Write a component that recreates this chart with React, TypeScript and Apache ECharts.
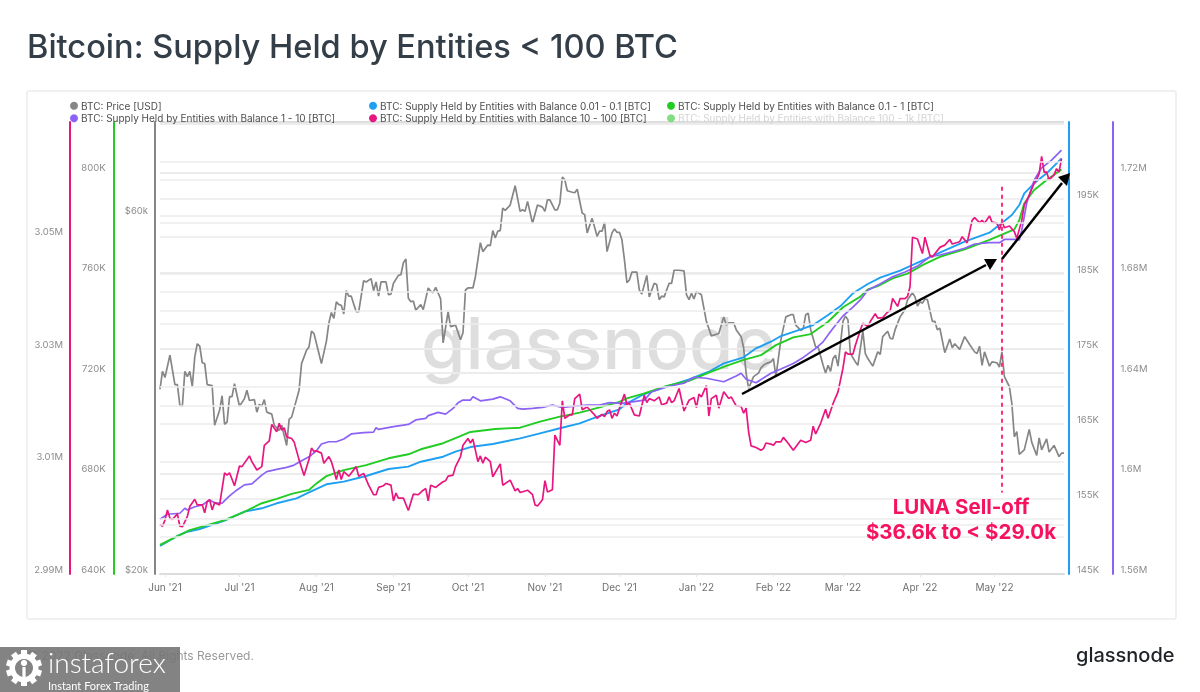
import React, { useEffect, useRef } from "react";
import * as echarts from "echarts";

const startDay = Date.UTC(2021, 4, 30);
const endDayOffset = 364;

const priceUsdK: [number, number][] = [
[0,35.3],[1,37.3],[2,36.6],[4,39.2],[6,35.8],[7,35.8],[8,33.6],[9,33.5],[10,37.3],[11,36.7],[12,37.3],[13,35.6],[14,39.0],[15,40.6],[16,40.3],[17,38.3],[18,38.2],[19,35.8],[21,35.7],[22,31.6],[24,33.1],[25,34.6],[26,31.7],[27,31.9],[28,34.5],[29,34.5],[30,35.9],[32,33.5],[34,34.3],[35,35.2],[36,34.1],[38,34.2],[39,32.9],[40,33.7],[41,33.5],[42,34.2],[43,32.9],[45,32.7],[46,31.6],[48,31.1],[49,31.6],[51,29.7],[52,32.2],[53,32.4],[56,35.2],[57,38.2],[59,39.8],[60,40.2],[61,42.2],[62,41.9],[64,39.4],[65,38.2],[67,40.9],[68,43.3],[69,44.7],[70,43.9],[71,46.2],[72,45.8],[73,45.7],[74,44.5],[75,47.8],[76,47.0],[77,47.0],[79,44.8],[80,44.8],[82,49.3],[83,49.1],[85,49.6],[86,47.8],[87,49.1],[88,47.0],[89,49.1],[91,49.1],[92,47.2],[93,47.3],[94,48.9],[96,50.1],[97,50.2],[98,52.1],[99,52.7],[100,46.7],[101,46.2],[102,46.3],[103,45.0],[105,45.8],[106,45.1],[108,48.2],[109,47.7],[110,47.5],[111,48.3],[113,46.6],[114,40.7],[116,44.8],[117,42.8],[119,43.0],[121,41.1],[122,42.0],[123,47.9],[124,48.2],[126,48.2],[127,49.9],[129,55.4],[130,53.9],[132,55.0],[133,54.9],[134,57.5],[135,56.2],[136,57.4],[137,57.5],[138,61.6],[139,61.2],[141,62.2],[143,66.0],[145,61.0],[146,61.3],[147,61.0],[148,62.9],[150,58.8],[152,62.2],[154,61.8],[155,61.0],[156,63.2],[157,63.2],[159,61.3],[160,61.3],[161,62.6],[162,67.8],[163,67.2],[164,65.0],[166,64.7],[167,64.6],[168,65.3],[170,60.7],[171,60.4],[172,57.1],[174,59.7],[176,56.5],[177,57.4],[178,57.4],[179,59.0],[180,53.9],[182,57.1],[183,57.8],[184,57.2],[185,57.2],[186,55.9],[187,52.6],[188,49.0],[189,49.4],[190,50.6],[192,50.6],[193,47.9],[194,47.3],[196,50.1],[197,46.9],[199,48.9],[200,48.7],[201,46.5],[202,47.0],[203,46.9],[205,48.9],[206,48.9],[207,50.9],[209,50.9],[211,50.8],[212,47.2],[213,46.5],[214,47.4],[215,46.6],[216,47.7],[218,47.2],[219,45.3],[220,43.5],[222,41.6],[223,41.7],[225,41.9],[227,44.1],[228,43.0],[229,43.3],[231,43.3],[232,42.4],[234,41.5],[235,40.1],[236,37.1],[237,35.4],[239,36.7],[241,37.1],[242,37.7],[243,38.0],[244,38.2],[246,38.4],[247,38.8],[248,36.7],[250,41.1],[251,42.6],[252,44.1],[254,44.4],[255,44.4],[256,43.0],[258,42.3],[259,42.5],[260,44.4],[261,44.6],[262,42.4],[264,40.2],[265,40.2],[267,38.0],[268,37.1],[269,38.0],[270,37.3],[271,38.8],[272,39.2],[273,37.9],[275,43.5],[276,44.2],[277,43.7],[278,39.4],[280,38.4],[281,38.0],[283,42.2],[284,39.4],[285,38.8],[287,37.9],[289,39.6],[290,39.3],[291,41.5],[293,42.2],[294,41.3],[295,41.2],[296,42.4],[298,44.1],[299,44.6],[300,45.1],[301,46.5],[303,47.5],[304,46.9],[305,45.6],[306,46.2],[307,46.0],[308,46.6],[309,46.5],[311,43.5],[312,43.5],[313,42.4],[314,42.6],[316,39.5],[318,41.2],[319,40.1],[320,40.6],[322,39.9],[324,41.5],[326,40.5],[328,39.6],[329,39.4],[330,40.3],[331,38.0],[332,39.6],[334,37.9],[335,38.4],[337,38.3],[338,37.8],[339,39.6],[340,36.7],[342,35.6],[343,33.8],[344,30.5],[345,31.0],[346,28.9],[348,29.3],[350,31.2],[351,30.0],[353,28.8],[354,30.4],[355,29.3],[357,30.3],[358,29.1],[360,29.7],[362,28.7],[363,29.0],[364,29.0]
];

const balance10to100K: [number, number][] = [
[0,2998.8],[1,2998.5],[2,2999.6],[3,3001.4],[4,2999.9],[5,2999.7],[7,3000.7],[8,2998.5],[9,2998.4],[11,3000.2],[12,3002.0],[14,3003.3],[15,3002.3],[17,3002.3],[18,3000.9],[19,3002.9],[20,3003.2],[21,3001.4],[22,3002.7],[24,3002.3],[26,3008.0],[27,3007.6],[28,3008.0],[30,3005.7],[32,3009.2],[33,3009.1],[36,3011.0],[37,3010.0],[39,3008.5],[41,3009.1],[42,3012.9],[44,3013.7],[45,3016.6],[47,3015.3],[48,3016.8],[49,3015.6],[50,3016.0],[51,3014.4],[53,3014.1],[54,3013.5],[56,3010.3],[58,3007.5],[60,3010.4],[61,3012.4],[62,3011.8],[63,3011.9],[65,3011.5],[66,3009.7],[68,3010.9],[69,3010.0],[70,3008.5],[71,3006.8],[72,3008.5],[73,3006.8],[74,3008.2],[76,3007.4],[79,3009.1],[80,3007.4],[82,3007.9],[84,3005.8],[86,3004.1],[87,3004.1],[88,3005.4],[90,3005.7],[91,3006.1],[93,3005.8],[94,3003.0],[95,3004.4],[96,3003.5],[98,3003.5],[100,3001.3],[102,3004.2],[104,3004.1],[106,3004.9],[107,3005.2],[108,3003.0],[109,3005.8],[111,3005.4],[113,3006.1],[114,3006.4],[115,3006.6],[116,3007.4],[118,3007.6],[119,3009.1],[121,3010.9],[122,3012.9],[124,3014.1],[125,3013.3],[126,3014.0],[128,3010.0],[129,3011.0],[130,3009.7],[131,3010.8],[133,3010.0],[134,3007.3],[137,3009.6],[138,3005.8],[141,3006.7],[143,3004.8],[144,3005.2],[145,3004.5],[148,3004.9],[150,3004.1],[151,3002.3],[152,3002.1],[154,3003.2],[155,3006.6],[156,3004.6],[158,3005.0],[159,3014.7],[161,3012.9],[162,3020.8],[163,3017.7],[165,3018.3],[166,3018.3],[167,3021.2],[169,3022.0],[170,3019.2],[172,3019.7],[175,3018.3],[176,3017.7],[178,3018.4],[179,3018.0],[180,3018.9],[181,3019.2],[182,3017.7],[183,3018.6],[184,3018.1],[185,3019.5],[187,3022.0],[188,3020.1],[189,3020.4],[191,3018.3],[193,3018.1],[195,3021.8],[196,3020.5],[197,3021.2],[199,3020.8],[201,3021.5],[202,3020.1],[204,3020.4],[205,3021.5],[206,3020.5],[207,3020.8],[209,3023.0],[211,3019.0],[213,3020.9],[215,3021.4],[216,3019.6],[217,3022.0],[218,3021.5],[220,3023.5],[221,3018.1],[222,3021.2],[224,3021.8],[225,3019.5],[227,3022.4],[229,3021.2],[230,3021.5],[232,3019.9],[234,3019.8],[235,3018.6],[236,3019.5],[237,3015.3],[238,3012.8],[240,3012.5],[242,3012.0],[243,3012.3],[244,3013.3],[246,3013.1],[247,3012.9],[248,3013.5],[250,3013.5],[251,3014.3],[253,3013.2],[255,3012.0],[258,3013.8],[260,3013.4],[262,3013.8],[263,3016.3],[264,3014.9],[266,3016.8],[268,3019.3],[269,3017.7],[271,3020.3],[273,3022.4],[275,3026.6],[276,3029.5],[277,3029.1],[279,3029.1],[280,3030.7],[282,3033.4],[283,3034.6],[285,3034.0],[286,3034.9],[288,3036.3],[289,3035.5],[291,3035.6],[293,3036.6],[294,3036.8],[295,3039.0],[297,3037.6],[298,3039.0],[300,3039.0],[301,3039.4],[302,3041.1],[303,3049.9],[305,3049.6],[307,3047.0],[308,3049.9],[310,3046.7],[311,3046.4],[314,3048.1],[316,3048.5],[318,3049.5],[319,3048.7],[322,3049.1],[323,3050.0],[325,3048.9],[327,3052.9],[328,3053.4],[330,3052.5],[331,3052.9],[332,3052.4],[334,3053.7],[335,3052.6],[337,3052.4],[338,3051.2],[339,3052.8],[340,3051.6],[342,3051.9],[344,3050.9],[345,3049.7],[347,3052.9],[348,3055.6],[350,3057.4],[352,3059.5],[353,3060.2],[354,3061.2],[355,3064.3],[356,3061.5],[357,3061.5],[358,3060.1],[360,3061.0],[361,3062.1],[362,3061.5],[363,3063.9]
];

const balance1to10K: [number, number][] = [
[0,1581.8],[3,1583.8],[8,1584.2],[10,1586.2],[11,1585.5],[14,1586.8],[17,1587.5],[20,1589.5],[22,1588.4],[25,1588.2],[28,1591.1],[31,1593.5],[34,1595.5],[37,1595.9],[41,1599.4],[43,1600.8],[47,1601.7],[51,1602.5],[54,1603.4],[57,1605.1],[60,1606.7],[63,1609.1],[65,1611.8],[68,1612.7],[71,1612.7],[74,1613.8],[77,1615.8],[82,1616.3],[86,1616.5],[87,1618.3],[88,1617.6],[94,1618.7],[100,1619.6],[103,1621.4],[107,1622],[108,1623.1],[112,1624.4],[115,1623.7],[118,1626],[120,1628.2],[122,1629.3],[125,1629.3],[126,1630.6],[129,1629],[134,1629.7],[137,1630.6],[141,1629],[144,1626],[146,1625.7],[150,1626],[154,1626.4],[158,1627.3],[162,1626.4],[167,1626.9],[172,1627.3],[177,1627.3],[181,1628.3],[186,1628],[195,1629.3],[198,1632.6],[204,1634.6],[211,1636],[215,1638.4],[220,1638],[227,1636.6],[232,1638.9],[234,1640],[236,1637.6],[240,1636.2],[246,1640],[250,1641.7],[255,1643.9],[259,1646.3],[264,1649.9],[267,1652.5],[271,1657.9],[275,1662.8],[279,1666.3],[282,1669.2],[285,1673.1],[289,1675.1],[295,1678.4],[300,1680.3],[305,1682.7],[310,1686.4],[314,1687.1],[319,1688.4],[324,1689.8],[328,1691.5],[334,1692],[338,1692],[340,1693.3],[344,1693.3],[346,1693.1],[347,1697],[349,1707.8],[352,1717],[355,1721.8],[359,1724.9],[363,1728.9]
];

const balance01to1K: [number, number][] = [
[0,651.6],[7,655.1],[12,657.5],[19,659.5],[26,661.5],[34,664.8],[41,668.2],[47,669.9],[53,671.9],[60,673.5],[63,676.1],[67,679],[74,681.4],[83,683.4],[92,686.1],[100,687.7],[105,689.7],[114,692.1],[119,694.1],[125,696.6],[135,697.8],[145,698.3],[153,700.7],[161,702.7],[169,704.3],[177,706.4],[185,708.6],[188,710],[195,712],[204,714.9],[213,717],[221,720.2],[228,722.9],[235,725.3],[242,727.2],[248,731.2],[255,734.3],[262,735.6],[269,740.5],[275,746.3],[282,750.5],[285,753.4],[289,754.7],[295,757.8],[301,759.7],[307,763.1],[314,766.4],[324,769.4],[334,773.1],[344,777.3],[346,781],[348,787.7],[352,793],[357,797],[363,801.2]
];

const balance001to01K: [number, number][] = [
[0,148.73],[7,150.07],[11,150.64],[16,151],[26,152.11],[34,153.31],[41,153.76],[47,154.43],[55,155.09],[60,155.89],[67,156.96],[74,157.31],[83,158.07],[92,159],[100,159.31],[105,159.97],[114,160.64],[119,161.31],[125,161.93],[134,162.33],[145,163.09],[153,163.76],[161,164.43],[169,165.09],[177,166.07],[185,166.96],[188,167.76],[195,169],[204,169.97],[213,170.96],[221,171.97],[227,173.09],[235,173.89],[240,175.09],[246,175.97],[250,176.73],[258,177.63],[263,178.2],[269,179.53],[274,180.73],[279,182.43],[285,183.67],[290,184.51],[298,185.44],[306,186.64],[314,187.84],[324,189.31],[334,190.51],[343,192.87],[346,194.2],[348,195.76],[352,197.09],[357,198.43],[363,200.43]
];

const extraGridLevels = [199.97, 197.63, 191.8, 182.6, 180.07, 178.33, 169.97, 167.44, 152.43, 151.57, 149.97];
const sellOffDay = 339;
const sellOffPriceRange = [65.8, 25.7];

const NAMES = {
  price: "BTC: Price [USD]",
  a: "BTC: Supply Held by Entities with Balance 0.01 - 0.1 [BTC]",
  b: "BTC: Supply Held by Entities with Balance 0.1 - 1 [BTC]",
  c: "BTC: Supply Held by Entities with Balance 1 - 10 [BTC]",
  d: "BTC: Supply Held by Entities with Balance 10 - 100 [BTC]",
  e: "BTC: Supply Held by Entities with Balance 100 - 1k [BTC]",
};

const GREY = "#868686";
const BLUE = "#1ea0f2";
const GREEN = "#22cc22";
const PURPLE = "#8b62f5";
const PINK = "#e8177f";
const FONT = "Inter, 'Noto Sans', sans-serif";

const toTime = (d: number) => startDay + d * 86400000;
const toSeries = (rows: [number, number][]) => rows.map(([d, v]) => [toTime(d), v]);
const MONTHS = ["Jan", "Feb", "Mar", "Apr", "May", "Jun", "Jul", "Aug", "Sep", "Oct", "Nov", "Dec"];
const fmtMonth = (v: number) => {
  const dt = new Date(v);
  return `${MONTHS[dt.getUTCMonth()]} '${String(dt.getUTCFullYear()).slice(2)}`;
};
const below = (limit: number, fmt: (v: number) => string) => (v: number) => (v >= limit ? "" : fmt(v));
const fmtM = (v: number) => `${parseFloat((v / 1000).toFixed(2))}M`;
const fmtK = (v: number) => `${Math.round(v)}K`;

const gridLine = { show: true, lineStyle: { color: "#ebebeb", width: 1.5 } };
const yAxisBase = (color: string, offset: number, position: string, margin: number) => ({
  type: "value",
  position,
  offset,
  axisLine: { show: true, onZero: false, lineStyle: { color, width: 2 } },
  axisTick: { show: false },
  splitLine: gridLine,
  axisLabelBase: {
    color: "#8c8c8c",
    fontSize: 9.5,
    fontFamily: FONT,
    margin,
    verticalAlign: "bottom",
    showMaxLabel: false,
    showMinLabel: true,
  },
});
function yAxis(color: string, offset: number, position: string, margin: number, extra: any, formatter: any) {
  const { axisLabelBase, ...base } = yAxisBase(color, offset, position, margin);
  return { ...base, ...extra, axisLabel: { ...axisLabelBase, formatter } };
}

function legend(left: number, items: any[]) {
  return {
    left,
    top: 100,
    orient: "vertical",
    itemWidth: 8,
    itemHeight: 8,
    itemGap: 1,
    padding: 0,
    selectedMode: false,
    icon: "circle",
    textStyle: { color: "#4d4d4d", fontSize: 10, fontFamily: FONT, padding: [0, 0, 0, -2], lineHeight: 11.5 },
    data: items,
  };
}

function gearElements() {
  const teeth: any[] = [];
  for (let i = 0; i < 10; i++) {
    teeth.push({
      type: "rect",
      rotation: (i * Math.PI) / 5,
      shape: { x: -3, y: -18, width: 6, height: 6 },
      style: { fill: "#ffffff" },
    });
  }
  return [
    ...teeth,
    { type: "ring", shape: { cx: 0, cy: 0, r: 14.5, r0: 9 }, style: { fill: "#ffffff" } },
    { type: "circle", shape: { cx: 0, cy: -5, r: 3.2 }, style: { fill: "#ffffff" } },
    { type: "rect", shape: { x: -1.6, y: -1, width: 3.2, height: 16 }, style: { fill: "#ffffff" } },
  ];
}

export default function App() {
  const ref = useRef<HTMLDivElement>(null);
  useEffect(() => {
    document.body.style.margin = "0";
    const chart = echarts.init(ref.current!, undefined, { renderer: "svg" });
    const line = (name: string, color: string, yAxisIndex: number, rows: [number, number][], width = 1.7) => ({
      name,
      type: "line",
      yAxisIndex,
      xAxisIndex: 0,
      showSymbol: false,
      symbol: "none",
      smooth: false,
      silent: true,
      lineStyle: { color, width },
      itemStyle: { color },
      data: toSeries(rows),
    });
    chart.setOption({
      animation: false,
      backgroundColor: "#ffffff",
      useUTC: true,
      title: {
        text: "Bitcoin: Supply Held by Entities < 100 BTC",
        left: 27,
        top: 29,
        padding: 0,
        textStyle: { color: "#333e48", fontSize: 32.6, fontWeight: 500, fontFamily: FONT },
      },
      legend: [
        legend(70, [
          { name: NAMES.price, itemStyle: { color: GREY } },
          { name: NAMES.c, itemStyle: { color: PURPLE } },
        ]),
        legend(369, [
          { name: NAMES.a, itemStyle: { color: BLUE } },
          { name: NAMES.d, itemStyle: { color: PINK } },
        ]),
        legend(667, [
          { name: NAMES.b, itemStyle: { color: GREEN } },
          { name: NAMES.e, itemStyle: { color: "#80dd80" }, textStyle: { color: "#d4d4d4" } },
        ]),
      ],
      grid: { left: 160, right: 136, top: 122, bottom: 118, containLabel: false },
      xAxis: {
        type: "time",
        min: toTime(0),
        max: toTime(endDayOffset),
        splitNumber: 12,
        axisLine: { show: true, onZero: false, lineStyle: { color: "#dcdcdc", width: 2 } },
        axisTick: { show: true, length: 3, lineStyle: { color: "#e6e6e6" } },
        splitLine: { show: false },
        axisLabel: {
          color: "#6f6f6f",
          fontSize: 10,
          fontFamily: FONT,
          margin: 8,
          showMinLabel: false,
          showMaxLabel: false,
          hideOverlap: false,
          formatter: (v: number) => fmtMonth(v),
        },
      },
      yAxis: [
        yAxis(PINK, 90, "left", 7, { min: 2990, max: 3070.4, interval: 20 }, below(3070, fmtM)),
        yAxis(GREEN, 46.4, "left", 8, { min: 640, max: 820.1, interval: 40 }, below(820, fmtK)),
        yAxis(GREY, 5, "left", 7, { type: "log", logBase: 3, min: 20, max: 80.3, interval: 1 }, (v: number) => `$${Math.round(v)}k`),
        yAxis(BLUE, 5, "right", 8, { min: 145, max: 205.27, interval: 10 }, below(205, fmtK)),
        yAxis(PURPLE, 48.5, "right", 8, { min: 1560, max: 1740.1, interval: 40 }, below(1740, fmtM)),
      ],
      series: [
        {
          name: "grid",
          type: "line",
          yAxisIndex: 3,
          z: 1,
          silent: true,
          data: [],
          markLine: {
            silent: true,
            symbol: "none",
            label: { show: false },
            lineStyle: { color: "#ededed", width: 1.5, type: "solid" },
            data: extraGridLevels.map((yAxis) => ({ yAxis })),
          },
        },
        {
          ...line(NAMES.price, GREY, 2, priceUsdK),
          markLine: {
            silent: true,
            symbol: "none",
            label: { show: false },
            lineStyle: { color: "#fb2f78", width: 2, type: [4, 4] },
            data: [[
              { coord: [toTime(sellOffDay), sellOffPriceRange[0]] },
              { coord: [toTime(sellOffDay), sellOffPriceRange[1]] },
            ]],
          },
        },
        line(NAMES.a, BLUE, 3, balance001to01K, 1.9),
        line(NAMES.b, GREEN, 1, balance01to1K, 1.9),
        line(NAMES.c, PURPLE, 4, balance1to10K),
        line(NAMES.d, PINK, 0, balance10to100K),
        line(NAMES.e, "#80dd80", 1, []),
      ],
      graphic: [
        { type: "rect", z: -10, shape: { x: 27, y: 91, width: 1149, height: 528, r: 2 },
          style: { fill: "#ffffff", stroke: "#ececec", lineWidth: 1.5 } },
        { type: "line", z: 1, shape: { x1: 160, y1: 122, x2: 1064, y2: 122 }, style: { stroke: "#d2d2d2", lineWidth: 1.2 } },
        { type: "text", z: -5, left: 421, top: 306,
          style: { text: "glassnode", fill: "#dedede", fontSize: 72, fontFamily: "Inter, sans-serif", fontWeight: 500 } },
        { type: "line", z: 20, shape: { x1: 742, y1: 394, x2: 986, y2: 265 }, style: { stroke: "#000000", lineWidth: 2.5 } },
        { type: "polygon", z: 20, shape: { points: [[997, 259], [984, 259], [990, 270]] }, style: { fill: "#000000" } },
        { type: "line", z: 20, shape: { x1: 1002, y1: 259, x2: 1062, y2: 183 }, style: { stroke: "#000000", lineWidth: 2.5 } },
        { type: "polygon", z: 20, shape: { points: [[1070, 173], [1058, 177], [1067, 186]] }, style: { fill: "#000000" } },
        { type: "text", z: 21, x: 961, y: 506,
          style: { text: "LUNA Sell-off", fill: "#f5125f", fontSize: 20.5, fontWeight: 700, fontFamily: FONT, align: "center", verticalAlign: "middle" } },
        { type: "text", z: 21, x: 961, y: 531,
          style: { text: "$36.6k to < $29.0k", fill: "#f5125f", fontSize: 20.5, fontWeight: 700, fontFamily: FONT, align: "center", verticalAlign: "middle" } },
        { type: "text", z: 1, x: 27, y: 655,
          style: { text: "© 2022 Glassnode. All Rights Reserved.", fill: "#9a9a9a", fontSize: 12, fontFamily: FONT, verticalAlign: "middle" } },
        { type: "text", z: 1, x: 1076, y: 655,
          style: { text: "glassnode", fill: "#1f2328", fontSize: 20, fontWeight: 500, fontFamily: FONT, verticalAlign: "middle" } },
        { type: "rect", z: 5, shape: { x: 0, y: 647, width: 180, height: 45 }, style: { fill: "#767676", opacity: 0.9 } },
        { type: "group", z: 6, x: 24, y: 668, children: gearElements().map((e) => ({ ...e, z: 6 })) },
        { type: "text", z: 6, x: 48, y: 662,
          style: { text: "instaforex", fill: "#ffffff", fontSize: 28, fontWeight: 300, fontFamily: "Lato, sans-serif", verticalAlign: "middle" } },
        { type: "text", z: 6, x: 48, y: 685,
          style: { text: "Instant Forex Trading", fill: "#ffffff", fontSize: 11, fontFamily: "Lato, sans-serif", verticalAlign: "middle" } },
      ],
    });
    return () => chart.dispose();
  }, []);
  return <div ref={ref} style={{ position: "absolute", left: 0, top: 0, width: 1200, height: 692, filter: "blur(0.3px)" }} />;
}
